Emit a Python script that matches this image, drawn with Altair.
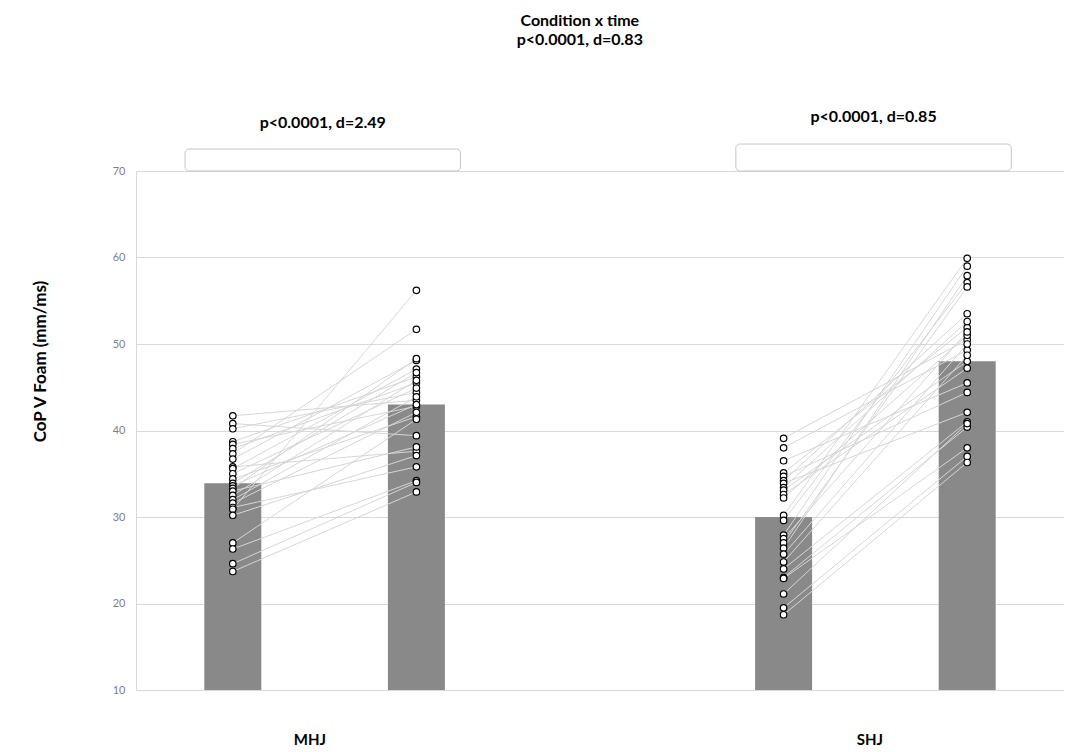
import altair as alt
import pandas as pd

# ---------------- data ----------------
conditions = ["MHJ", "SHJ"]
times = ["Pre", "Post"]

# paired subject values (same index = same subject)
mhj_pre = [41.7, 40.8, 40.2, 38.7, 38.4, 37.9, 37.3, 36.7, 35.8, 35.6, 35.0, 34.4, 33.9,
           33.6, 33.3, 33.0, 32.5, 32.0, 31.6, 31.1, 30.9, 30.2, 27.0, 26.3, 24.6, 23.7]
mhj_post = [43.5, 39.4, 44.4, 46.2, 42.8, 45.5, 51.7, 48.1, 37.6, 47.1, 44.9, 41.6, 46.7,
            43.0, 48.3, 38.1, 45.8, 43.9, 42.1, 35.8, 56.2, 37.1, 41.3, 34.2, 34.0, 32.9]

shj_pre = [39.1, 38.0, 36.5, 35.1, 34.7, 34.2, 33.9, 33.4, 33.1, 32.6, 32.2, 30.2, 29.6,
           27.9, 27.5, 27.0, 26.4, 25.7, 24.8, 24.0, 23.0, 22.9, 21.1, 19.5, 18.7]
shj_post = [50.5, 49.3, 45.5, 51.9, 44.4, 53.5, 42.1, 52.6, 48.0, 47.2, 51.0, 59.9, 57.1,
            59.0, 51.4, 56.6, 57.9, 50.0, 48.7, 41.0, 40.4, 38.0, 40.8, 37.0, 36.3]

# bar heights (group means)
mhj_means = [33.9, 43.0]
shj_means = [30.0, 48.0]

pair_stats = ["p<0.0001, d=2.49", "p<0.0001, d=0.85"]
interaction = ["Condition x time", "p<0.0001, d=0.83"]
y_ticks = [10, 20, 30, 40, 50, 60, 70]

# ---------------- tables ----------------
rows = []
for cond, pre, post in [("MHJ", mhj_pre, mhj_post), ("SHJ", shj_pre, shj_post)]:
    for i, (a, b) in enumerate(zip(pre, post)):
        rows.append({"condition": cond, "subject": f"{cond}-{i}", "time": "Pre", "value": a})
        rows.append({"condition": cond, "subject": f"{cond}-{i}", "time": "Post", "value": b})
points_df = pd.DataFrame(rows)

mean_rows = []
for cond, ms in [("MHJ", mhj_means), ("SHJ", shj_means)]:
    for t, m in zip(times, ms):
        mean_rows.append({"condition": cond, "time": t, "value": m})
means_df = pd.DataFrame(mean_rows)

pos_expr = "(datum.condition === 'SHJ' ? 3 : 0) + (datum.time === 'Post' ? 1.5 : 0.5)"

FONT = "Lato"
xscale = alt.Scale(domain=[0, 5], nice=False, zero=False)
yscale = alt.Scale(domain=[10, 70], nice=False, zero=False)

X = alt.X("pos:Q", scale=xscale, axis=None)
Y = alt.Y(
    "value:Q",
    scale=yscale,
    axis=alt.Axis(
        values=y_ticks,
        title="CoP V Foam (mm/ms)",
        titleFont=FONT,
        titleFontSize=17,
        titleFontWeight="bold",
        titleColor="#000000",
        titleAngle=270,
        titleX=-96,
        titleY=190,
        titleAlign="center",
        titleBaseline="middle",
        labelFont=FONT,
        labelFontSize=11,
        labelColor="#7f7f7f",
        labelPadding=11,
        ticks=False,
        domainColor="#d9d9d9",
        grid=True,
        gridColor="#d9d9d9",
    ),
)

bars = (
    alt.Chart(means_df)
    .transform_calculate(pos=pos_expr)
    .mark_bar(size=57, color="#898989")
    .encode(x=X, y=Y, y2=alt.datum(10))
)

lines = (
    alt.Chart(points_df)
    .transform_calculate(pos=pos_expr)
    .mark_line(color="#d6d6d6", strokeWidth=1)
    .encode(x=X, y=Y, detail="subject:N", order="pos:Q")
)

dots = (
    alt.Chart(points_df)
    .transform_calculate(pos=pos_expr)
    .mark_point(shape="circle", filled=True, fill="#ffffff", stroke="#000000",
                strokeWidth=1.2, size=42, opacity=1)
    .encode(x=X, y=Y)
)

layers = [bars, lines, dots]

# group labels under the axis
group_labels = (
    alt.Chart(pd.DataFrame({"condition": conditions}))
    .transform_calculate(lx="datum.condition === 'SHJ' ? 3.97 : 0.92")
    .mark_text(font=FONT, fontSize=15, fontWeight="bold", color="#000000",
               align="center", baseline="middle")
    .encode(x=alt.X("lx:Q", scale=xscale, axis=None), y=alt.value(569), text="condition:N")
)
layers.append(group_labels)

# brackets and pairwise statistics
bracket_top = {"MHJ": -22, "SHJ": -27}
stat_y = {"MHJ": -48, "SHJ": -54}
for i, (cond, stat) in enumerate(zip(conditions, pair_stats)):
    base = 3 * i
    br = (
        alt.Chart(pd.DataFrame({"condition": [cond]}))
        .mark_rect(fillOpacity=0, stroke="#c4c4c4", strokeWidth=1, cornerRadius=4)
        .encode(
            x=alt.datum(base + 0.24, scale=xscale),
            x2=alt.datum(base + 1.74),
            y=alt.value(bracket_top[cond]),
            y2=alt.value(0),
        )
    )
    st = (
        alt.Chart(pd.DataFrame({"label": [stat]}))
        .mark_text(font=FONT, fontSize=16, fontWeight="bold", color="#000000",
                   align="center", baseline="middle")
        .encode(x=alt.datum(base + 0.99, scale=xscale), y=alt.value(stat_y[cond]), text="label:N")
    )
    layers += [br, st]

# interaction title (two lines)
for r, txt in enumerate(interaction):
    t = (
        alt.Chart(pd.DataFrame({"label": [txt]}))
        .mark_text(font=FONT, fontSize=16, fontWeight="bold", color="#000000",
                   align="center", baseline="middle")
        .encode(x=alt.datum(2.39, scale=xscale), y=alt.value(-150 + 19 * r), text="label:N")
    )
    layers.append(t)

chart = (
    alt.layer(*layers)
    .properties(
        width=928,
        height=519,
        autosize=alt.AutoSizeParams(type="none"),
        padding={"left": 128, "top": 163, "right": 0, "bottom": 62},
        background="#ffffff",
    )
    .configure_view(stroke=None)
)

chart.save("out.html", embed_options={"renderer": "svg", "actions": False})
